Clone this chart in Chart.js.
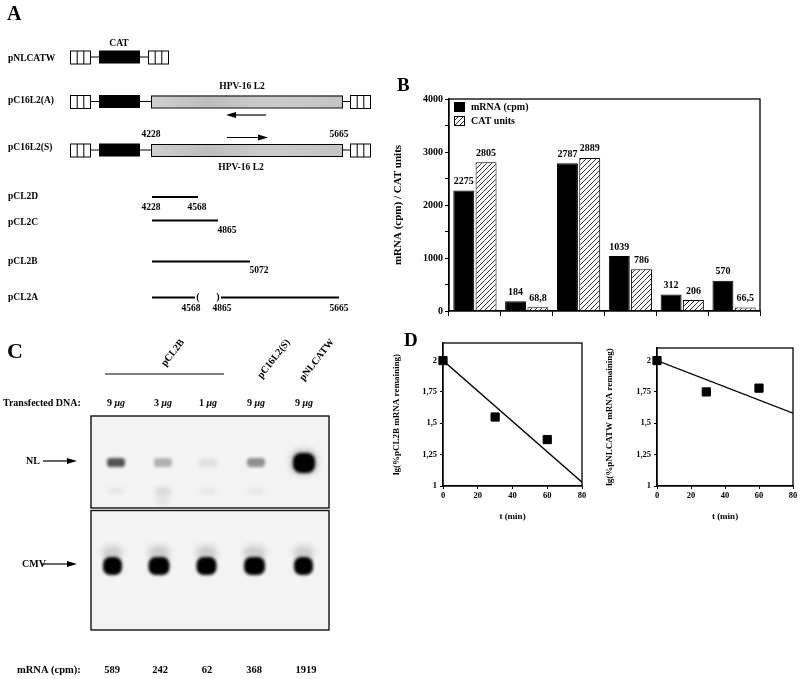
<!DOCTYPE html>
<html>
<head>
<meta charset="utf-8">
<script src="https://cdn.jsdelivr.net/npm/chart.js@4.4.0/dist/chart.umd.min.js"></script>
<style>
    html, body { margin: 0; padding: 0; background: #fff; }
    body { width: 800px; height: 679px; position: relative; overflow: hidden; }
    #bg { position: absolute; left: 0; top: 0; }
    .box { position: absolute; }
</style>
</head>
<body>
<canvas id="bg" width="800" height="679"></canvas>
<div class="box" style="left:380px;top:85px;width:400px;height:250px"><canvas id="chartB"></canvas></div>
<div class="box" style="left:380px;top:330px;width:215px;height:200px"><canvas id="chartD1"></canvas></div>
<div class="box" style="left:590px;top:330px;width:210px;height:200px"><canvas id="chartD2"></canvas></div>
<script>
// Panel B data
const groups = ['1', '2', '3', '4', '5', '6'];
const mrnaCpm = [2275, 184, 2787, 1039, 312, 570];
const catUnits = [2805, 68.8, 2889, 786, 206, 66.5];

// Panel D data
const pcl2bTime = [0, 30, 60];
const pcl2bLog = [2, 1.55, 1.37];
const pnlcatwTime = [0, 29, 60];
const pnlcatwLog = [2, 1.75, 1.78];
const fitTime = [0, 80];
const pcl2bFit = [2, 1.03];
const pnlcatwFit = [2, 1.58];
const dTicksY = [1, 1.25, 1.5, 1.75, 2];

// Panel C data
const laneLabels = ['9 μg', '3 μg', '1 μg', '9 μg', '9 μg'];
const laneCpm = [589, 242, 62, 368, 1919];

const SERIF = '"Liberation Serif", "Times New Roman", serif';
const comma = v => String(v).replace('.', ',');

// ---------- background drawing: panels A and C ----------
const g = document.getElementById('bg').getContext('2d');

function txt(s, x, y, size, align) {
    g.font = 'bold ' + size + 'px ' + SERIF;
    g.textAlign = align || 'left';
    g.textBaseline = 'middle';
    g.fillStyle = '#000';
    g.fillText(s, x, y);
}

function hline(x1, x2, y, w) {
    g.beginPath();
    g.lineWidth = w || 1;
    g.strokeStyle = '#000';
    g.moveTo(x1, y);
    g.lineTo(x2, y);
    g.stroke();
}

function cells(x, yc) {
    g.fillStyle = '#fff';
    g.fillRect(x, yc - 6.5, 20, 13);
    g.strokeStyle = '#000';
    g.lineWidth = 1;
    g.strokeRect(x + 0.5, yc - 6, 20, 13);
    g.beginPath();
    g.moveTo(x + 7.2, yc - 6); g.lineTo(x + 7.2, yc + 7);
    g.moveTo(x + 13.8, yc - 6); g.lineTo(x + 13.8, yc + 7);
    g.stroke();
}

function greyBox(x1, x2, yc) {
    const grad = g.createLinearGradient(x1, 0, x2, 0);
    grad.addColorStop(0, '#cfcfcf');
    grad.addColorStop(0.3, '#bdbdbd');
    grad.addColorStop(0.6, '#cbcbcb');
    grad.addColorStop(1, '#c4c4c4');
    g.fillStyle = grad;
    g.fillRect(x1, yc - 6, x2 - x1, 12);
    g.strokeStyle = '#000';
    g.lineWidth = 1;
    g.strokeRect(x1 + 0.5, yc - 5.5, x2 - x1, 12);
}

function arrow(x1, x2, y) {
    const dir = x2 > x1 ? 1 : -1;
    hline(x1, x2 - dir * 8, y, 1.2);
    g.beginPath();
    g.fillStyle = '#000';
    g.moveTo(x2, y);
    g.lineTo(x2 - dir * 10, y - 3);
    g.lineTo(x2 - dir * 10, y + 3);
    g.closePath();
    g.fill();
}

function construct(yc, withL2) {
    cells(70, yc);
    hline(90, 100, yc, 1);
    g.fillStyle = '#000';
    g.fillRect(99, yc - 6.5, 41, 13);
    if (withL2) {
        hline(140, 151, yc, 1);
        greyBox(151, 342, yc);
        hline(342, 350, yc, 1);
        cells(350, yc);
    } else {
        hline(140, 148, yc, 1);
        cells(148, yc);
    }
}

// Panel A
txt('A', 7, 15, 20);
txt('CAT', 119, 44, 9.5, 'center');
txt('pNLCATW', 8, 59, 9.5);
construct(57, false);

txt('HPV-16 L2', 242, 87, 9.5, 'center');
txt('pC16L2(A)', 8, 101, 9.5);
construct(101.5, true);
arrow(266, 226, 115);

txt('4228', 151, 135, 9.5, 'center');
txt('5665', 339, 135, 9.5, 'center');
arrow(227, 268, 137.5);
txt('pC16L2(S)', 8, 148, 9.5);
construct(150, true);
txt('HPV-16 L2', 241, 168, 9.5, 'center');

txt('pCL2D', 8, 197, 9.5);
hline(152, 198, 197, 1.8);
txt('4228', 151, 208, 9.5, 'center');
txt('4568', 197, 208, 9.5, 'center');

txt('pCL2C', 8, 223, 9.5);
hline(152, 218, 220.5, 1.8);
txt('4865', 227, 231, 9.5, 'center');

txt('pCL2B', 8, 262, 9.5);
hline(152, 250, 261.5, 1.8);
txt('5072', 259, 271, 9.5, 'center');

txt('pCL2A', 8, 298, 9.5);
hline(152, 195, 297.5, 1.8);
hline(221, 339, 297.5, 1.8);
txt('(', 198, 297, 10, 'center');
txt(')', 218, 297, 10, 'center');
txt('4568', 191, 309, 9.5, 'center');
txt('4865', 222, 309, 9.5, 'center');
txt('5665', 339, 309, 9.5, 'center');

// Panel C
const laneX = [116, 163, 208, 256, 304];
txt('C', 7, 352, 22);
g.strokeStyle = '#444';
hline(105, 224, 374, 1);

function rotLabel(s, x, y) {
    g.save();
    g.translate(x, y);
    g.rotate(-52 * Math.PI / 180);
    txt(s, 0, 0, 10, 'center');
    g.restore();
}
rotLabel('pCL2B', 173, 353);
rotLabel('pC16L2(S)', 274, 359);
rotLabel('pNLCATW', 317, 360);

txt('Transfected DNA:', 3, 403, 10);
laneLabels.forEach((s, i) => {
    const parts = s.split(' ');
    g.font = 'bold 10px ' + SERIF;
    const w1 = g.measureText(parts[0] + ' ').width;
    g.font = 'bold italic 10px ' + SERIF;
    const w2 = g.measureText(parts[1]).width;
    const x0 = laneX[i] - (w1 + w2) / 2;
    txt(parts[0] + ' ', x0, 403, 10);
    g.font = 'bold italic 10px ' + SERIF;
    g.fillText(parts[1], x0 + w1, 403);
});

// gel panels
function gelBox(y1, y2) {
    g.fillStyle = '#f3f3f3';
    g.fillRect(91, y1, 238, y2 - y1);
    g.strokeStyle = '#111';
    g.lineWidth = 1.4;
    g.strokeRect(91, y1, 238, y2 - y1);
}
function blob(cx, cy, w, h, alpha, blur) {
    g.save();
    g.filter = 'blur(' + blur + 'px)';
    g.fillStyle = 'rgba(0,0,0,' + alpha + ')';
    g.beginPath();
    g.roundRect(cx - w / 2, cy - h / 2, w, h, Math.min(w, h) / 2.5);
    g.fill();
    g.restore();
}
gelBox(416, 508);
gelBox(510.5, 630);
g.save();
g.beginPath();
g.rect(92, 417, 236, 90);
g.rect(92, 511, 236, 118);
g.clip();
// NL bands, darkness follows mRNA cpm
laneCpm.forEach((v, i) => {
    const a = Math.min(1, v / 900);
    if (v > 1000) {
        blob(laneX[i], 463, 22, 20, 1, 1.5);
        blob(laneX[i], 462, 26, 24, 0.25, 3);
    } else {
        blob(laneX[i], 462.5, 18, 9, a, 1.5);
    }
    if (i < 4) blob(laneX[i], 491, 16, 6, 0.05, 2);
});
blob(163, 496, 14, 20, 0.06, 2);
// CMV bands
const cmvX = [112.5, 159, 206.5, 254.5, 303.5];
const cmvW = [19, 21, 20, 21, 19];
cmvX.forEach((x, i) => {
    blob(x, 553, cmvW[i], 14, 0.16, 3);
    blob(x, 566, cmvW[i], 18, 1, 1.4);
});
g.restore();

txt('NL', 26, 461, 10);
arrow(43, 77, 461);
txt('CMV', 22, 564, 10);
arrow(41, 77, 564);

txt('mRNA (cpm):', 17, 670, 10.5);
laneCpm.forEach((v, i) => txt(String(v), [112, 160, 207, 254, 306][i], 670, 10.5, 'center'));

// Panel letters for B and D
txt('B', 397, 86, 19);
txt('D', 404, 341, 19);

// ---------- Chart.js panels ----------
const frame = {
    id: 'frame',
    afterDatasetsDraw(chart) {
        const a = chart.chartArea, c = chart.ctx;
        c.save();
        c.strokeStyle = '#000';
        c.lineWidth = 1.3;
        c.strokeRect(a.left, a.top, a.right - a.left, a.bottom - a.top);
        c.restore();
    }
};

const valueLabels = {
    id: 'valueLabels',
    afterDatasetsDraw(chart) {
        const c = chart.ctx;
        c.save();
        c.font = 'bold 10px ' + SERIF;
        c.fillStyle = '#000';
        c.textAlign = 'center';
        c.textBaseline = 'bottom';
        chart.data.datasets.forEach((ds, i) => {
            chart.getDatasetMeta(i).data.forEach((bar, j) => {
                c.fillText(comma(ds.data[j]), bar.x, bar.y - 4);
            });
        });
        c.restore();
    }
};

const boxLegend = {
    id: 'boxLegend',
    afterDraw(chart) {
        const c = chart.ctx, a = chart.chartArea;
        c.save();
        c.font = 'bold 10px ' + SERIF;
        c.textBaseline = 'middle';
        c.textAlign = 'left';
        chart.data.datasets.forEach((ds, i) => {
            const x = a.left + 5, y = a.top + 3 + i * 14;
            c.fillStyle = ds.backgroundColor;
            c.fillRect(x, y, 11, 10);
            c.strokeStyle = '#000';
            c.lineWidth = 1;
            c.strokeRect(x + 0.5, y + 0.5, 10, 9);
            c.fillStyle = '#000';
            c.fillText(ds.label, x + 17, y + 5);
        });
        c.restore();
    }
};

function hatchPattern(ctx) {
    const tile = document.createElement('canvas');
    tile.width = 5; tile.height = 5;
    const t = tile.getContext('2d');
    t.fillStyle = '#fff';
    t.fillRect(0, 0, 5, 5);
    t.strokeStyle = '#000';
    t.lineWidth = 0.8;
    t.beginPath();
    t.moveTo(0, 5); t.lineTo(5, 0);
    t.moveTo(-1, 1); t.lineTo(1, -1);
    t.moveTo(4, 6); t.lineTo(6, 4);
    t.stroke();
    return ctx.createPattern(tile, 'repeat');
}

const bCanvas = document.getElementById('chartB');
new Chart(bCanvas, {
    type: 'bar',
    data: {
        labels: groups,
        datasets: [
            { label: 'mRNA (cpm)', data: mrnaCpm, backgroundColor: '#000', borderColor: '#000', borderWidth: 1 },
            { label: 'CAT units', data: catUnits, backgroundColor: hatchPattern(bCanvas.getContext('2d')), borderColor: '#000', borderWidth: 1 }
        ]
    },
    options: {
        responsive: true,
        maintainAspectRatio: false,
        animation: false,
        layout: { padding: { top: 14, right: 20, left: 0, bottom: 0 } },
        datasets: { bar: { categoryPercentage: 0.86, barPercentage: 0.94 } },
        plugins: { legend: { display: false }, tooltip: { enabled: false } },
        scales: {
            x: {
                ticks: { display: false },
                grid: { offset: true, drawOnChartArea: false, color: '#000', tickLength: 5 },
                border: { color: '#000', width: 1.3 },
                afterFit: s => { s.height = 24; }
            },
            y: {
                min: 0,
                max: 4000,
                ticks: {
                    stepSize: 500,
                    callback: v => v % 1000 === 0 ? v : '',
                    color: '#000',
                    padding: 2,
                    font: { family: SERIF, weight: 'bold', size: 10 }
                },
                grid: { drawOnChartArea: false, color: '#000', tickLength: 4 },
                border: { color: '#000', width: 1.3 },
                title: {
                    display: true,
                    text: 'mRNA (cpm) / CAT units',
                    color: '#000',
                    padding: { top: 12, bottom: 0 },
                    font: { family: SERIF, weight: 'bold', size: 11 }
                },
                afterFit: s => { s.width = 69; }
            }
        }
    },
    plugins: [frame, valueLabels, boxLegend]
});

function decayChart(id, times, vals, fit, yMax, title, pad, yWidth) {
    new Chart(document.getElementById(id), {
        type: 'scatter',
        data: {
            datasets: [
                {
                    data: times.map((t, i) => ({ x: t, y: vals[i] })),
                    pointStyle: 'rect', pointRadius: 5.8,
                    backgroundColor: '#000', borderColor: '#000', clip: false
                },
                {
                    type: 'line',
                    data: fitTime.map((t, i) => ({ x: t, y: fit[i] })),
                    borderColor: '#000', borderWidth: 1.3, pointRadius: 0, fill: false
                }
            ]
        },
        options: {
            responsive: true,
            maintainAspectRatio: false,
            animation: false,
            layout: { padding: pad },
            plugins: { legend: { display: false }, tooltip: { enabled: false } },
            scales: {
                x: {
                    type: 'linear',
                    min: 0,
                    max: 80,
                    ticks: { stepSize: 20, color: '#000', padding: 2, font: { family: SERIF, weight: 'bold', size: 8.5 } },
                    grid: { drawOnChartArea: false, color: '#000', tickLength: 3 },
                    border: { color: '#000', width: 1.3 },
                    title: {
                        display: true, text: 't (min)', color: '#000',
                        padding: { top: 0, bottom: 8 },
                        font: { family: SERIF, weight: 'bold', size: 9 }
                    },
                    afterFit: s => { s.height = 44; }
                },
                y: {
                    min: 1,
                    max: yMax,
                    afterBuildTicks: s => { s.ticks = dTicksY.map(v => ({ value: v })); },
                    ticks: { callback: v => comma(v), color: '#000', padding: 3, font: { family: SERIF, weight: 'bold', size: 8.5 } },
                    grid: { drawOnChartArea: false, color: '#000', tickLength: 3 },
                    border: { color: '#000', width: 1.3 },
                    title: {
                        display: true, text: title, color: '#000',
                        padding: { top: pad.titleTop, bottom: 0 },
                        font: { family: SERIF, weight: 'bold', size: 9 }
                    },
                    afterFit: s => { s.width = yWidth; }
                }
            }
        },
        plugins: [frame]
    });
}

decayChart('chartD1', pcl2bTime, pcl2bLog, pcl2bFit, 2.14, 'lg(%pCL2B mRNA remaining)',
    { top: 13, right: 13, left: 0, bottom: 0, titleTop: 11 }, 63);
decayChart('chartD2', pnlcatwTime, pnlcatwLog, pnlcatwFit, 2.1, 'lg(%pNLCATW mRNA remaining)',
    { top: 18, right: 7, left: 0, bottom: 0, titleTop: 14 }, 67);
</script>
</body>
</html>
